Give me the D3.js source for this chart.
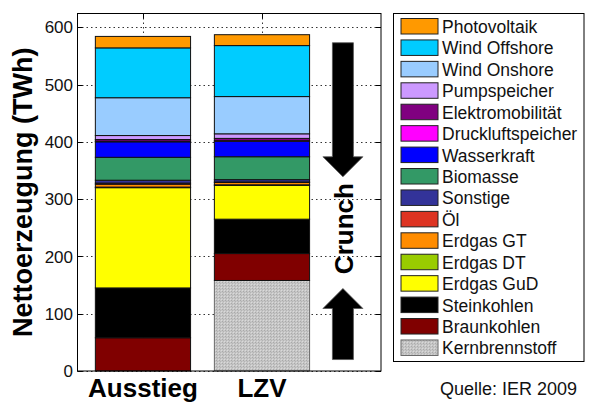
<!DOCTYPE html>
<html>
<head>
<meta charset="utf-8">
<script src="https://cdn.jsdelivr.net/npm/d3@7"></script>
<style>
  body { margin: 0; background: white; }
  text { font-family: "Liberation Sans", Arial, Helvetica, sans-serif; }
</style>
</head>
<body>
<div id="chart"></div>
<script>
var width = 589;
var height = 403;

// scenarios on the x axis
var scenarios = ["Ausstieg", "LZV"];

// energy sources, bottom of the stack first
var sources = ["Kernbrennstoff", "Braunkohlen", "Steinkohlen", "Erdgas GuD", "Erdgas DT", "Erdgas GT",
  "Öl", "Sonstige", "Biomasse", "Wasserkraft", "Druckluftspeicher", "Elektromobilität",
  "Pumpspeicher", "Wind Onshore", "Wind Offshore", "Photovoltaik"];

var source_colors = ["url(#kern)", "#800000", "#000000", "#ffff00", "#99cc00", "#ff8c00",
  "#dd3322", "#333399", "#339966", "#0000ff", "#ff00ff", "#800080",
  "#cc99ff", "#99ccff", "#00ccff", "#ff9900"];

// net generation (TWh), same order as sources
var ausstieg_values = [0, 58, 87, 175, 1, 5, 2, 5, 40, 27, 1, 3, 7, 66, 87, 20];
var lzv_values = [158, 47, 60, 59, 1, 4, 1, 4, 40, 27, 1, 4, 8, 65, 89, 19];

var y_ticks = [0, 100, 200, 300, 400, 500, 600];

// "Crunch" arrows (TWh)
var arrow_down = [573, 339];
var arrow_up = [20, 144];

var margin = {left: 77.5, top: 13.5, right: 381, bottom: 371};

var svg = d3.select("#chart").append("svg")
    .attr("width", width)
    .attr("height", height);

var defs = svg.append("defs");
var pat = defs.append("pattern")
    .attr("id", "kern")
    .attr("patternUnits", "userSpaceOnUse")
    .attr("width", 3)
    .attr("height", 3);
pat.append("rect").attr("width", 3).attr("height", 3).attr("fill", "#c6c6c6");
pat.append("rect").attr("x", 0).attr("y", 0).attr("width", 1).attr("height", 1).attr("fill", "#a9a9a9");
pat.append("rect").attr("x", 1).attr("y", 1).attr("width", 1).attr("height", 1).attr("fill", "#b4b4b4");
pat.append("rect").attr("x", 2).attr("y", 2).attr("width", 1).attr("height", 1).attr("fill", "#dadada");

var x = d3.scaleLinear().domain([0.45, 3]).range([margin.left, margin.right]);
var y = d3.scaleLinear().domain([0, 624]).range([margin.bottom, margin.top]);
var barWidth = x(1.8) - x(1);

// grid
var grid = svg.append("g").attr("class", "grid");
grid.selectAll(".hgrid")
  .data(y_ticks)
  .enter().append("line")
    .attr("x1", margin.left)
    .attr("x2", margin.right)
    .attr("y1", function(d) { return Math.round(y(d)) + 0.5; })
    .attr("y2", function(d) { return Math.round(y(d)) + 0.5; })
    .style("stroke", "#333")
    .style("stroke-width", 1)
    .style("stroke-dasharray", "1.5,3");
grid.selectAll(".vgrid")
  .data([1, 2])
  .enter().append("line")
    .attr("x1", function(d) { return Math.round(x(d)) + 0.5; })
    .attr("x2", function(d) { return Math.round(x(d)) + 0.5; })
    .attr("y1", margin.top)
    .attr("y2", margin.bottom)
    .style("stroke", "#333")
    .style("stroke-width", 1)
    .style("stroke-dasharray", "1.5,3");

// stacked bars
var rows = scenarios.map(function(s, i) {
  var vals = i === 0 ? ausstieg_values : lzv_values;
  var r = {name: s, pos: i + 1};
  sources.forEach(function(k, j) { r[k] = vals[j]; });
  return r;
});

var stack = d3.stack().keys(sources);
var layers = stack(rows);

var layer = svg.selectAll(".layer")
  .data(layers)
  .enter().append("g")
    .attr("class", "layer")
    .style("fill", function(d, i) { return source_colors[i]; });

layer.selectAll("rect")
  .data(function(d) { return d.filter(function(p) { return p[1] - p[0] > 0; }); })
  .enter().append("rect")
    .attr("x", function(d) { return x(d.data.pos) - barWidth / 2; })
    .attr("width", barWidth)
    .attr("y", function(d) { return y(d[1]); })
    .attr("height", function(d) { return y(d[0]) - y(d[1]); })
    .style("stroke", "#111")
    .style("stroke-width", 1);

// grey nuclear block gets a grey edge
layer.filter(function(d) { return d.key === "Kernbrennstoff"; }).selectAll("rect")
    .style("stroke", "#6a6a6a");

// axes box with inward ticks
var axisG = svg.append("g");
axisG.append("rect")
    .attr("x", margin.left)
    .attr("y", margin.top)
    .attr("width", margin.right - margin.left)
    .attr("height", margin.bottom - margin.top)
    .style("fill", "none")
    .style("stroke", "#000")
    .style("stroke-width", 1);

axisG.selectAll(".ytl")
  .data(y_ticks)
  .enter().append("line")
    .attr("x1", margin.left).attr("x2", margin.left + 5)
    .attr("y1", function(d) { return Math.round(y(d)) + 0.5; })
    .attr("y2", function(d) { return Math.round(y(d)) + 0.5; })
    .style("stroke", "#000");
axisG.selectAll(".ytr")
  .data(y_ticks)
  .enter().append("line")
    .attr("x1", margin.right - 5).attr("x2", margin.right)
    .attr("y1", function(d) { return Math.round(y(d)) + 0.5; })
    .attr("y2", function(d) { return Math.round(y(d)) + 0.5; })
    .style("stroke", "#000");
axisG.selectAll(".xtt")
  .data([1, 2])
  .enter().append("line")
    .attr("x1", function(d) { return Math.round(x(d)) + 0.5; })
    .attr("x2", function(d) { return Math.round(x(d)) + 0.5; })
    .attr("y1", margin.top).attr("y2", margin.top + 5)
    .style("stroke", "#000");

axisG.selectAll(".ylab")
  .data(y_ticks)
  .enter().append("text")
    .attr("x", 73)
    .attr("y", function(d) { return y(d); })
    .attr("dy", "0.36em")
    .attr("text-anchor", "end")
    .style("font-size", "17px")
    .style("fill", "#111")
    .text(function(d) { return d; });

axisG.selectAll(".xlab")
  .data(rows)
  .enter().append("text")
    .attr("x", function(d) { return x(d.pos); })
    .attr("y", 397)
    .attr("text-anchor", "middle")
    .style("font-size", "26px")
    .style("font-weight", "bold")
    .text(function(d) { return d.name; });

svg.append("text")
    .attr("transform", "translate(32," + (margin.top + margin.bottom) / 2 + ") rotate(-90)")
    .attr("text-anchor", "middle")
    .style("font-size", "27px")
    .style("font-weight", "bold")
    .text("Nettoerzeugung (TWh)");

// crunch arrows
var ax = x(2.68);
var shaft = 10.5, head = 20, headLen = 20;
function arrowPath(from, to) {
  var y0 = y(from), y1 = y(to);
  var dir = y1 > y0 ? 1 : -1;
  var yb = y1 - dir * headLen;
  return "M" + (ax - shaft) + "," + y0 + "L" + (ax + shaft) + "," + y0 +
    "L" + (ax + shaft) + "," + yb + "L" + (ax + head) + "," + yb +
    "L" + ax + "," + y1 + "L" + (ax - head) + "," + yb +
    "L" + (ax - shaft) + "," + yb + "Z";
}
svg.selectAll(".arrow")
  .data([arrow_down, arrow_up])
  .enter().append("path")
    .attr("d", function(d) { return arrowPath(d[0], d[1]); })
    .style("fill", "#000")
    .style("stroke", "#555")
    .style("stroke-width", 0.8);

svg.append("text")
    .attr("transform", "translate(" + (ax + 10) + "," + ((y(arrow_down[1]) + y(arrow_up[1])) / 2 - 4) + ") rotate(-90)")
    .attr("text-anchor", "middle")
    .style("font-size", "26px")
    .style("font-weight", "bold")
    .text("Crunch");

// legend
var legend = svg.append("g");
legend.append("rect")
    .attr("x", 393.5)
    .attr("y", 13.5)
    .attr("width", 190.5)
    .attr("height", 348)
    .style("fill", "white")
    .style("stroke", "#000")
    .style("stroke-width", 1);

var legendItems = sources.slice().reverse();
var legendColors = source_colors.slice().reverse();

var item = legend.selectAll(".item")
  .data(legendItems)
  .enter().append("g")
    .attr("class", "item")
    .attr("transform", function(d, i) { return "translate(0," + (18.5 + i * 21.43) + ")"; });

item.append("rect")
    .attr("x", 401)
    .attr("y", 0)
    .attr("width", 37)
    .attr("height", 15.5)
    .style("fill", function(d, i) { return legendColors[i]; })
    .style("stroke", function(d) { return d === "Kernbrennstoff" ? "#666" : "#222"; })
    .style("stroke-width", 1);

item.append("text")
    .attr("x", 442)
    .attr("y", 14.5)
    .style("font-size", "17.5px")
    .style("fill", "#111")
    .text(function(d) { return d; });

svg.append("text")
    .attr("x", 440)
    .attr("y", 395)
    .style("font-size", "18px")
    .style("fill", "#111")
    .text("Quelle: IER 2009");
</script>
</body>
</html>
